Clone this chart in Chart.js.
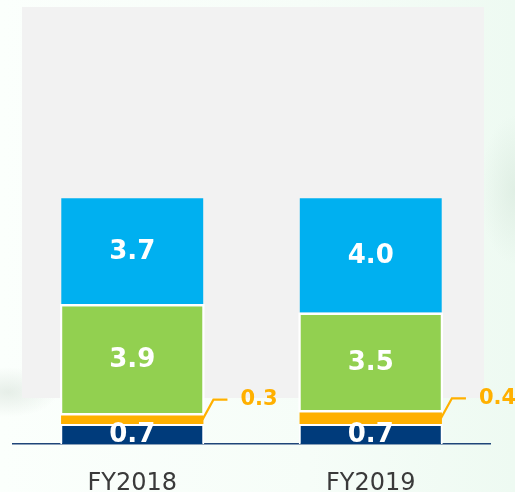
<!DOCTYPE html>
<html>
<head>
<meta charset="utf-8">
<script src="https://cdn.jsdelivr.net/npm/chart.js@4"></script>
<style>
  html, body { margin: 0; padding: 0; }
  body {
    width: 515px; height: 492px; overflow: hidden; position: relative;
    background:
      radial-gradient(ellipse 50px 25px at 8px 392px, rgba(205,218,208,0.45), rgba(255,255,255,0) 100%),
      radial-gradient(ellipse 35px 75px at 515px 190px, rgba(210,228,215,0.5), rgba(255,255,255,0) 100%),
      linear-gradient(90deg, #fbfffc 0%, #f6fdf8 60%, #eefaf2 100%);
  }
  #panel { position: absolute; left: 22px; top: 7px; width: 462px; height: 391px; background: #f2f2f2; }
  #wrap { position: absolute; left: 0; top: 0; width: 515px; height: 492px; }
</style>
</head>
<body>
<div id="panel"></div>
<div id="wrap"><canvas id="chart" width="515" height="492"></canvas></div>
<script>
// --------------------
// Data
// --------------------
const years = ["FY2018", "FY2019"];
const navyVals = [0.7, 0.7];
const orangeVals = [0.3, 0.4];
const greenVals = [3.9, 3.5];
const blueVals = [3.7, 4.0];

const FONT = "'DejaVu Sans', Verdana, sans-serif";

// value labels: inside the segment, or outside with a leader line (thin orange strip)
const valueLabels = {
  id: "valueLabels",
  afterDatasetsDraw(chart) {
    const ctx = chart.ctx;
    const area = chart.chartArea;
    chart.data.datasets.forEach((ds, i) => {
      const meta = chart.getDatasetMeta(i);
      meta.data.forEach((el, j) => {
        const v = ds.data[j];
        const cy = (el.y + el.base) / 2;
        ctx.save();
        ctx.font = "bold " + (ds.outside ? 21 : 26) + "px " + FONT;
        ctx.textBaseline = "middle";
        if (ds.outside) {
          const x0 = el.x + el.width / 2 - 1;
          ctx.strokeStyle = ds.backgroundColor;
          ctx.lineWidth = 2.2;
          ctx.beginPath();
          ctx.moveTo(x0, cy);
          ctx.lineTo(x0 + 11, cy - 20);
          ctx.lineTo(x0 + 25, cy - 20);
          ctx.stroke();
          ctx.fillStyle = ds.backgroundColor;
          ctx.textAlign = "left";
          ctx.fillText(v.toFixed(1), x0 + 38, cy - 20);
        } else {
          ctx.beginPath();
          ctx.rect(area.left, area.top, area.right - area.left, area.bottom - area.top);
          ctx.clip();
          ctx.fillStyle = "#ffffff";
          ctx.textAlign = "center";
          ctx.fillText(v.toFixed(1), el.x, cy + 1);
        }
        ctx.restore();
      });
    });
  }
};

new Chart(document.getElementById("chart"), {
  type: "bar",
  data: {
    labels: years,
    datasets: [
      { data: navyVals, backgroundColor: "#003b7b", borderColor: "#ffffff", borderWidth: 2,
        borderSkipped: "bottom", barPercentage: 0.604 },
      { data: orangeVals, backgroundColor: "#ffb000", borderWidth: 0, barPercentage: 0.597, outside: true },
      { data: greenVals, backgroundColor: "#92d050", borderColor: "#ffffff", borderWidth: 2.5,
        borderSkipped: false, barPercentage: 0.608 },
      { data: blueVals, backgroundColor: "#00b0f0", borderWidth: 0, barPercentage: 0.595 }
    ]
  },
  options: {
    responsive: false,
    animation: false,
    layout: { padding: { left: 13, right: 25, top: 15.5, bottom: 0 } },
    plugins: { legend: { display: false }, tooltip: { enabled: false } },
    scales: {
      x: {
        stacked: true,
        offset: true,
        afterFit: s => { s.height = 48; },
        grid: { display: false, drawTicks: false },
        border: { display: true, color: "#1f4579", width: 1.5 },
        ticks: { color: "#3a3a3a", font: { family: FONT, size: 24 }, padding: 25 }
      },
      y: {
        stacked: true,
        display: false,
        min: 0,
        max: 15
      }
    },
    datasets: { bar: { categoryPercentage: 1 } }
  },
  plugins: [valueLabels]
});
</script>
</body>
</html>
